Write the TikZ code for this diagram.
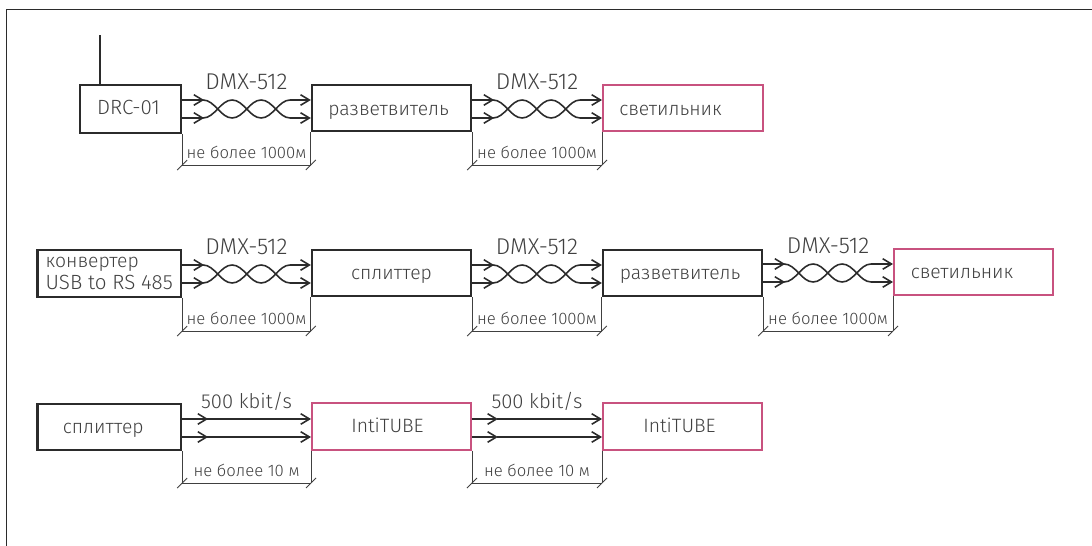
\documentclass[tikz,border=0pt]{standalone}
\usepackage{fontspec}
\setmainfont{Fira Sans Light}
\usepackage{xcolor}
\usetikzlibrary{positioning, arrows.meta, calc}
\definecolor{BoxGray}{HTML}{2B2B2B}
\definecolor{LampPink}{HTML}{C8527F}
\definecolor{TextGray}{HTML}{404040}
% bracket under a link: from, to, length text
\newcommand{\lengthmark}[3]{
  \draw[dim] (#1.south east) -- (#1.south east |- dimrow) coordinate (dimA);
  \draw[dim] (#2.south west) -- (#2.south west |- dimrow) coordinate (dimB);
  \draw[dim] (dimA) -- (dimB);
  \draw[dim] ($(dimA)+(-0.1,-0.1)$) -- ($(dimA)+(0.1,0.1)$);
  \draw[dim] ($(dimB)+(-0.1,-0.1)$) -- ($(dimB)+(0.1,0.1)$);
  \node[limit, anchor=base] at ($(dimA)!0.5!(dimB)+(0,0.12)$) {#3};
}
% twisted pair: from, to, length text
\newcommand{\twistlink}[3]{
  \coordinate (from) at (#1.east |- #2.west);
  \coordinate (to) at (#2.west);
  \foreach \s in {1,-1}{
    \draw[wire, ->] ($(from)+(0,0.18*\s-0.02)$) -- ++(0.44,0);
    \draw[wire, ->] ($(from)+(0.42,0.18*\s-0.02)$)
       .. controls +(0.23,0) and +(-0.23,0) .. ++(0.58,-0.36*\s)
       .. controls +(0.23,0) and +(-0.23,0) .. ++(0.58,0.36*\s)
       .. controls +(0.23,0) and +(-0.23,0) .. ++(0.58,-0.36*\s)
       -- ($(to)+(0,-0.18*\s-0.02)$);
  }
  \node[rate] at ($(from)!0.5!(to)+(0,0.52)$) {DMX-512};
  \lengthmark{#1}{#2}{#3}
}
% straight pair
\newcommand{\straightlink}[3]{
  \coordinate (from) at (#1.east |- #2.west);
  \coordinate (to) at (#2.west);
  \foreach \s in {1,-1}{
    \draw[wire, ->] ($(from)+(0,0.18*\s-0.03)$) -- ++(0.52,0);
    \draw[wire, ->] ($(from)+(0.5,0.18*\s-0.03)$) -- ($(to)+(0,0.18*\s-0.03)$);
  }
  \node[rate, font=\fontsize{11.5}{12}\selectfont] at ($(from)!0.5!(to)+(0,0.5)$) {500 kbit/s};
  \lengthmark{#1}{#2}{#3}
}
\begin{document}
\begin{tikzpicture}[
    >={Straight Barb[length=5pt,width=6pt]},
    box/.style={rectangle, draw=BoxGray, line width=1.3pt, minimum height=0.93cm, minimum width=3.18cm, font=\fontsize{11}{12}\selectfont, text=TextGray, align=left, inner sep=0pt},
    lamp/.style={box, draw=LampPink, line width=1.1pt},
    sunk/.style={text height=#1, text depth=0pt},
    wire/.style={draw=BoxGray, line width=0.9pt},
    dim/.style={draw=TextGray, line width=0.5pt},
    rate/.style={font=\fontsize{13}{14}\selectfont, text=TextGray},
    limit/.style={font=\fontsize{9.5}{10}\selectfont, text=TextGray}
  ]
  \useasboundingbox (0,0) rectangle (21.84,10.92);
  \draw[draw=BoxGray, line width=0.9pt] (0.13,0) -- (0.13,10.73) -- (21.84,10.73);

  % Row 1
  \node[box, sunk=0.24cm, minimum width=2.02cm, minimum height=0.96cm, font=\fontsize{11.7}{12}\selectfont] (drc) at (2.61,8.74) {DRC-01\hspace{0.08cm}};
  \node[box, sunk=0.32cm] (razvA) at (7.83,8.76) {разветвитель\hspace{0.12cm}};
  \node[lamp, sunk=0.32cm, minimum width=3.2cm] (lampA) at (13.66,8.76) {светильник\hspace{0.5cm}};
  \coordinate (ant) at (2.0,10.22);
  \draw[wire, line width=1.2pt] (drc.north -| ant) -- (ant);
  \coordinate (dimrow) at (0,7.62);
  \twistlink{drc}{razvA}{не более 1000м}
  \twistlink{razvA}{lampA}{не более 1000м}

  % Row 2
  \node[box, minimum width=2.87cm, font=\fontsize{11.7}{13}\selectfont] (conv) at (2.185,5.45) {{\fontsize{11}{13}\selectfont конвертер}\\USB to RS 485};
  \node[box, sunk=0.28cm] (split) at (7.83,5.46) {сплиттер};
  \node[box, sunk=0.28cm] (razvB) at (13.65,5.46) {разветвитель\hspace{0.1cm}};
  \node[lamp, sunk=0.28cm] (lampB) at (19.47,5.48) {светильник\hspace{0.46cm}};
  \coordinate (dimrow) at (0,4.3);
  \twistlink{conv}{split}{не более 1000м}
  \twistlink{split}{razvB}{не более 1000м}
  \twistlink{razvB}{lampB}{не более 1000м}

  % Row 3
  \node[box, sunk=0.28cm, minimum width=2.87cm] (splitC) at (2.185,2.38) {сплиттер\hspace{0.24cm}};
  \node[lamp, sunk=0.26cm] (tubeA) at (7.83,2.39) {IntiTUBE\hspace{0.16cm}};
  \node[lamp, sunk=0.26cm] (tubeB) at (13.65,2.39) {IntiTUBE\hspace{0.12cm}};
  \coordinate (dimrow) at (0,1.26);
  \straightlink{splitC}{tubeA}{не более 10 м}
  \straightlink{tubeA}{tubeB}{не более 10 м}
\end{tikzpicture}
\end{document}
